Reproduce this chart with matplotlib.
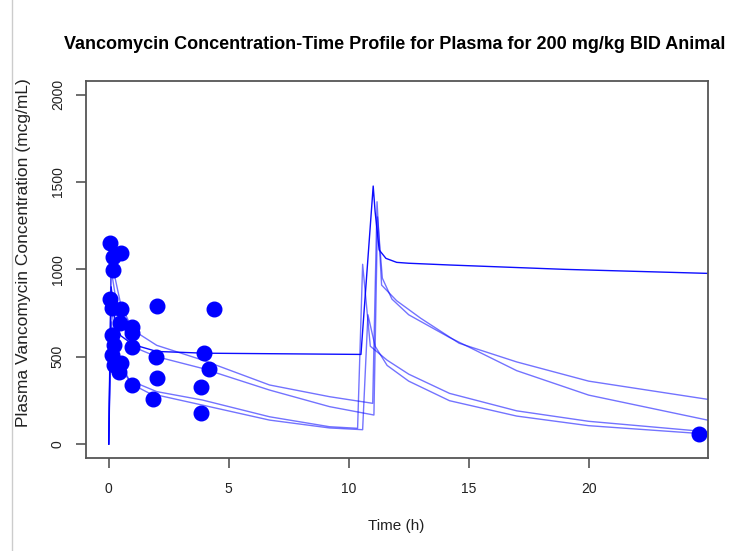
import matplotlib
matplotlib.use("Agg")
import matplotlib.pyplot as plt

plt.rcParams['font.family'] = ['Liberation Sans', 'DejaVu Sans']

# observed concentrations (time h, conc mcg/mL)
obs_t = [0.05, 0.53, 0.18, 0.19, 0.05, 0.15, 0.53, 2.00, 4.39, 0.47, 0.96, 0.15, 0.99, 0.22,
         0.99, 1.96, 3.95, 0.15, 4.16, 0.22, 0.53, 0.43, 2.00, 0.96, 3.84, 1.85, 3.86, 24.58]
obs_c = [1153, 1091, 1070, 998, 830, 779, 772, 790, 771, 691, 672, 624, 634, 567,
         557, 500, 523, 510, 429, 452, 466, 414, 378, 338, 328, 258, 176, 57]

# predicted profiles, one per animal
# animal with slow elimination (drawn darker)
fitA_t = [0, 0.1, 0.25, 0.5, 1.0, 2.0, 4.0, 10.51, 11.02, 11.1, 11.27, 11.55, 12.0, 12.5, 14.2, 19.0, 24.95]
fitA_c = [0, 900, 720, 620, 570, 530, 520, 513, 1477, 1330, 1111, 1063, 1040, 1035, 1025, 1000, 977]

fitB_t = [0, 0.1, 0.25, 0.5, 1.0, 2.0, 3.9, 6.7, 9.2, 11.0, 11.18, 11.37, 12.0, 13.0, 14.6, 17.0, 20.0, 24.95]
fitB_c = [0, 1100, 960, 800, 653, 565, 481, 338, 271, 233, 1387, 910, 820, 720, 577, 470, 360, 256]

fitC_t = [0, 0.1, 0.25, 0.5, 1.0, 2.0, 3.9, 6.7, 9.2, 11.05, 11.2, 11.4, 11.8, 12.5, 14.2, 17.0, 20.0, 24.95]
fitC_c = [0, 1000, 870, 700, 557, 500, 433, 309, 214, 166, 1300, 950, 830, 740, 610, 420, 280, 137]

fitD_t = [0, 0.1, 0.25, 0.5, 0.85, 2.0, 3.9, 6.7, 9.2, 10.37, 10.58, 10.9, 11.6, 12.5, 14.2, 17.0, 20.0, 24.95]
fitD_c = [0, 820, 620, 470, 366, 300, 252, 156, 99, 90, 1029, 560, 480, 400, 290, 190, 130, 70]

fitE_t = [0, 0.1, 0.25, 0.5, 1.0, 1.7, 3.9, 6.7, 9.2, 10.58, 10.8, 11.1, 11.6, 12.5, 14.2, 17.0, 20.0, 24.95]
fitE_c = [0, 700, 540, 430, 340, 290, 223, 137, 92, 82, 740, 560, 450, 360, 248, 160, 105, 57]

fig = plt.figure(figsize=(7.42, 5.51), dpi=100)
ax = fig.add_axes([0.1155, 0.1688, 0.8383, 0.6847])

for t, c, a in [(fitB_t, fitB_c, 0.55), (fitC_t, fitC_c, 0.55), (fitD_t, fitD_c, 0.55),
                (fitE_t, fitE_c, 0.55), (fitA_t, fitA_c, 0.95)]:
    ax.plot(t, c, color='#0000ff', alpha=a, lw=1.0)

ax.plot(obs_t, obs_c, 'o', color='#0000ff', ms=10.5, mec='#0000ff', clip_on=False)

ax.set_xlim(-0.96, 24.96)
ax.set_ylim(-80, 2080)
ax.set_xticks([0, 5, 10, 15, 20])
ax.set_yticks([0, 500, 1000, 1500, 2000])
for lab in ax.get_yticklabels():
    lab.set_rotation(90)
    lab.set_va('center')
ax.tick_params(length=7, width=1.2, color='#555555', labelsize=10, labelcolor='#222222')
ax.tick_params(axis='x', pad=10)
ax.tick_params(axis='y', pad=8)
for s in ax.spines.values():
    s.set_color('#555555')
    s.set_linewidth(1.3)

fig.text(0.532, 0.92, 'Vancomycin Concentration-Time Profile for Plasma for 200 mg/kg BID Animal',
         ha='center', va='center', fontsize=13, fontweight='bold')
fig.text(0.534, 0.045, 'Time (h)', ha='center', va='center', fontsize=11, color='#222222')
fig.text(0.031, 0.542, 'Plasma Vancomycin Concentration (mcg/mL)', ha='center', va='center',
         rotation=90, fontsize=12.5, color='#222222')

# window edge from the screenshot
fig.add_artist(plt.Line2D([0.016, 0.016], [0, 1], color='#cccccc', lw=1, transform=fig.transFigure))

fig.savefig('out.png', dpi=100)
